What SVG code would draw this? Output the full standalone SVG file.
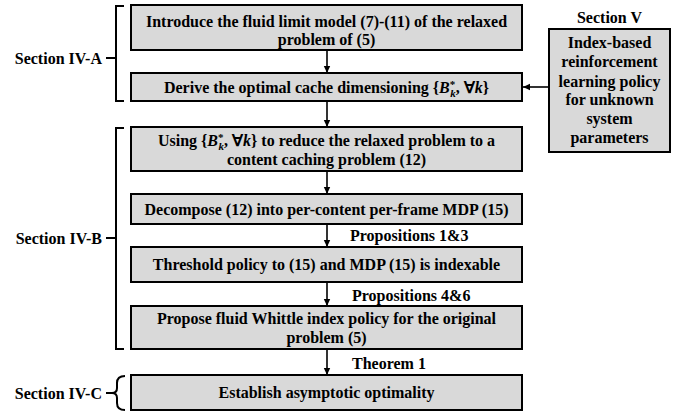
<svg xmlns="http://www.w3.org/2000/svg" width="678" height="416" viewBox="0 0 678 416">
<defs>
<marker id="ah" markerWidth="8" markerHeight="8" refX="7" refY="4" orient="auto" markerUnits="userSpaceOnUse">
<path d="M0,0.8 L7,4 L0,7.2 z" fill="#000"/>
</marker>
<style>
.box{fill:#d9d9d9;stroke:#000;stroke-width:2}
.t{font-family:"Liberation Serif","Times New Roman",serif;font-weight:bold;font-size:16px;fill:#000}
.c{text-anchor:middle}
.e{text-anchor:end}
.br{fill:none;stroke:#000;stroke-width:2}
.ln{fill:none;stroke:#000;stroke-width:1.6}
.m{font-style:italic}
.s{font-size:11px}
</style>
</defs>
<rect width="678" height="416" fill="#fff"/>

<g id="n1"><rect class="box" x="131" y="5" width="391" height="45"/>
<text class="t c" x="326.5" y="27">Introduce the fluid limit model (7)-(11) of the relaxed</text>
<text class="t c" x="326.5" y="45">problem of (5)</text></g>

<g id="n2"><rect class="box" x="131" y="73" width="391" height="28"/>
<text class="t c" x="326.5" y="93">Derive the optimal cache dimensioning {<tspan class="m">B</tspan><tspan class="s" dy="-5">*</tspan><tspan class="s m" dx="-5" dy="9">k</tspan><tspan dy="-4">, ∀</tspan><tspan class="m">k</tspan>}</text></g>

<g id="n3"><rect class="box" x="131" y="127" width="391" height="44"/>
<text class="t c" x="326.5" y="146">Using {<tspan class="m">B</tspan><tspan class="s" dy="-5">*</tspan><tspan class="s m" dx="-5" dy="9">k</tspan><tspan dy="-4">, ∀</tspan><tspan class="m">k</tspan>} to reduce the relaxed problem to  a</text>
<text class="t c" x="326.5" y="165">content caching problem (12)</text></g>

<g id="n4"><rect class="box" x="131" y="194" width="391" height="30"/>
<text class="t c" x="326.5" y="215">Decompose (12) into per-content per-frame MDP (15)</text></g>

<g id="n5"><rect class="box" x="131" y="247" width="391" height="35"/>
<text class="t c" x="326.5" y="270">Threshold policy to (15) and MDP (15) is indexable</text></g>

<g id="n6"><rect class="box" x="131" y="306" width="391" height="43"/>
<text class="t c" x="326.5" y="324">Propose fluid Whittle index policy for the original</text>
<text class="t c" x="326.5" y="343">problem (5)</text></g>

<g id="n7"><rect class="box" x="131" y="375" width="391" height="35"/>
<text class="t c" x="326.5" y="398">Establish asymptotic optimality</text></g>

<g id="n8"><rect class="box" x="549" y="29" width="121" height="123"/>
<text class="t c" x="609.5" y="48">Index-based</text>
<text class="t c" x="609.5" y="67">reinforcement</text>
<text class="t c" x="609.5" y="87">learning policy</text>
<text class="t c" x="609.5" y="105">for unknown</text>
<text class="t c" x="609.5" y="124">system</text>
<text class="t c" x="609.5" y="143">parameters</text></g>

<g id="secV"><text class="t c" x="609.5" y="23">Section V</text></g>

<g id="secA"><path class="br" d="M124,6 H116 V101 H124 M106,58 H116"/>
<text class="t e" x="102" y="64">Section IV-A</text></g>
<g id="secB"><path class="br" d="M124,128 H116 V349 H124 M106,238 H116"/>
<text class="t e" x="102" y="244">Section IV-B</text></g>
<g id="secC"><path class="br" d="M125,376 Q117,376 117,383 V388 Q117,393 112,393 Q117,393 117,398 V403 Q117,410 125,410 M106,393 H112"/>
<text class="t e" x="102" y="399">Section IV-C</text></g>

<g id="connectors">
<line class="ln" x1="327" y1="50" x2="327" y2="73" marker-end="url(#ah)"/>
<line class="ln" x1="327" y1="101" x2="327" y2="127" marker-end="url(#ah)"/>
<line class="ln" x1="327" y1="171" x2="327" y2="194" marker-end="url(#ah)"/>
<line class="ln" x1="327" y1="224" x2="327" y2="247" marker-end="url(#ah)"/>
<line class="ln" x1="327" y1="282" x2="327" y2="306" marker-end="url(#ah)"/>
<line class="ln" x1="327" y1="349" x2="327" y2="375" marker-end="url(#ah)"/>
<line class="ln" x1="549" y1="87" x2="523" y2="87" marker-end="url(#ah)"/>
<text class="t" x="350" y="241">Propositions 1&amp;3</text>
<text class="t" x="352" y="301">Propositions 4&amp;6</text>
<text class="t" x="352" y="369">Theorem 1</text>
</g>
</svg>
